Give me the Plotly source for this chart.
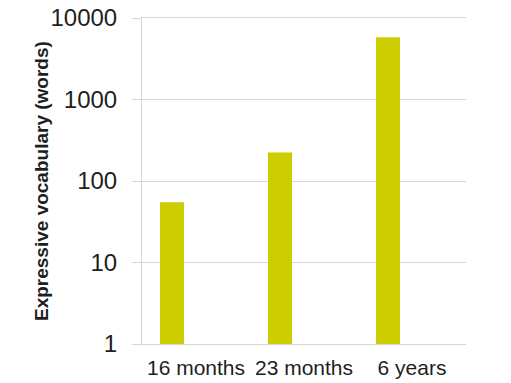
import plotly.graph_objects as go

categories = ["16 months", "23 months", "6 years"]
vocab_words = [54, 222, 5800]
y_tick_values = [1, 10, 100, 1000, 10000]
y_tick_labels = ["1", "10", "100", "1000", "10000"]

FONT = "Liberation Sans, Arial, sans-serif"
GRID = "#d6d6d6"

fig = go.Figure()
fig.add_trace(go.Bar(
    x=categories,
    y=vocab_words,
    marker=dict(color="#CCCC00", line=dict(width=0)),
    offset=-1/3,
    width=2/9,
    base=1,
))

fig.update_layout(
    width=511, height=383,
    margin=dict(l=142, r=45, t=18, b=39),
    paper_bgcolor="white", plot_bgcolor="white",
    showlegend=False,
    font=dict(family=FONT, color="#1e1e1e"),
    xaxis=dict(
        type="category",
        showgrid=False,
        showline=True, linecolor=GRID, linewidth=1, mirror=True,
        ticks="", tickfont=dict(size=21, color="#1e1e1e"),
        ticklabelstandoff=5,
        zeroline=False,
        automargin=False,
    ),
    yaxis=dict(
        type="log",
        range=[0, 4],
        tickvals=y_tick_values,
        ticktext=y_tick_labels,
        showgrid=True, gridcolor=GRID, gridwidth=1,
        showline=True, linecolor=GRID, linewidth=1,
        ticks="outside", ticklen=9, tickcolor=GRID, tickwidth=1,
        tickfont=dict(size=24, color="#1e1e1e"),
        ticklabelstandoff=10,
        zeroline=False,
        automargin=False,
    ),
    annotations=[dict(
        text="<b>Expressive vocabulary (words)</b>",
        xref="paper", yref="paper",
        x=(41 - 142) / 324, y=0.5,
        xanchor="center", yanchor="middle",
        textangle=-90, showarrow=False,
        font=dict(size=19, family=FONT, color="#1e1e1e"),
    )],
)

fig.write_html("out.html")
